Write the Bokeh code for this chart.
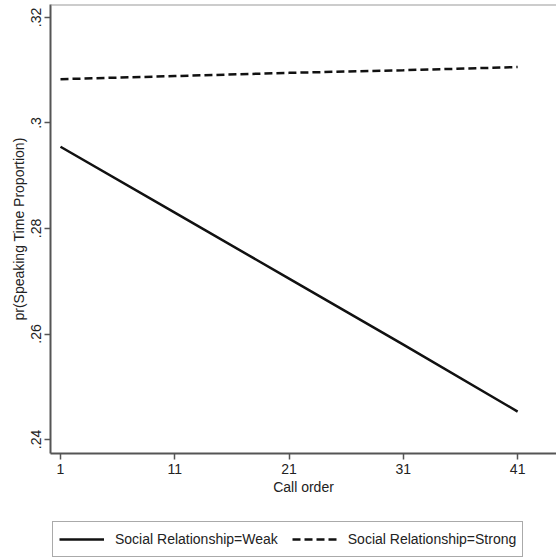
from bokeh.plotting import figure
from bokeh.layouts import column
from bokeh.models import FixedTicker, Legend, LegendItem, Range1d, Span
from bokeh.embed import file_html
from bokeh.resources import INLINE

call_order = [1, 11, 21, 31, 41]
weak = [0.2955, 0.2830, 0.2705, 0.2580, 0.2453]
strong = [0.3083, 0.3089, 0.3095, 0.3100, 0.3106]
x_ticks = [1, 11, 21, 31, 41]
y_ticks = [0.24, 0.26, 0.28, 0.30, 0.32]
y_tick_labels = [".24", ".26", ".28", ".3", ".32"]
series_labels = ["Social Relationship=Weak", "Social Relationship=Strong"]

FONT = "Liberation Sans"
WEAK_STYLE = dict(line_color="#111111", line_width=2.5)
STRONG_STYLE = dict(line_color="#111111", line_width=2.5, line_dash="8 4")
Y_TOP = 0.32246

p = figure(width=556, height=510, output_backend="svg", toolbar_location=None,
           x_range=Range1d(0.125, 44.4), y_range=Range1d(0.23735, Y_TOP),
           min_border_left=50, min_border_right=0, min_border_top=4, min_border_bottom=57)

p.background_fill_color = "white"
p.border_fill_color = "white"
p.outline_line_color = None
p.grid.visible = False
p.add_layout(Span(location=Y_TOP, dimension="width", line_color="#9a9a9a", line_width=2))

p.line(call_order, weak, **WEAK_STYLE)
p.line(call_order, strong, **STRONG_STYLE)

for ax in (p.xaxis[0], p.yaxis[0]):
    ax.axis_line_color = "#555555"
    ax.axis_line_width = 2
    ax.major_tick_line_color = "#555555"
    ax.major_tick_line_width = 1.5
    ax.major_tick_out = 6
    ax.major_tick_in = 0
    ax.minor_tick_line_color = None
    ax.major_label_text_font = FONT
    ax.major_label_text_font_size = "14px"
    ax.major_label_text_color = "#222222"
    ax.axis_label_text_font = FONT
    ax.axis_label_text_font_size = "14px"
    ax.axis_label_text_font_style = "normal"
    ax.axis_label_text_color = "#222222"

p.xaxis.ticker = FixedTicker(ticks=x_ticks)
p.xaxis.axis_label = "Call order"
p.xaxis.axis_label_standoff = 2
p.xaxis.major_label_standoff = 4

p.yaxis.ticker = FixedTicker(ticks=y_ticks)
p.yaxis.major_label_overrides = {t: l for t, l in zip(y_ticks, y_tick_labels)}
p.yaxis.major_label_orientation = "vertical"
p.yaxis.axis_label = "pr(Speaking Time Proportion)"
p.yaxis.axis_label_standoff = 2
p.yaxis.major_label_standoff = 3

# legend strip
lg = figure(width=556, height=48, output_backend="svg", toolbar_location=None,
            x_range=Range1d(0, 1), y_range=Range1d(0, 1),
            min_border_left=0, min_border_right=0, min_border_top=0, min_border_bottom=0)
lg.axis.visible = False
lg.grid.visible = False
lg.outline_line_color = None
lg.background_fill_color = "white"
lg.border_fill_color = "white"
# legend-key renderers kept outside the visible range
r_weak = lg.line([-5, -4], [-5, -4], **WEAK_STYLE)
r_strong = lg.line([-5, -4], [-5, -4], **STRONG_STYLE)

legend = Legend(items=[LegendItem(label=series_labels[0], renderers=[r_weak]),
                       LegendItem(label=series_labels[1], renderers=[r_strong])],
                orientation="horizontal", location=(2, 1))
legend.label_text_font = FONT
legend.label_text_font_size = "14px"
legend.label_text_color = "#222222"
legend.glyph_width = 45
legend.glyph_height = 22
legend.label_standoff = 11
legend.spacing = 14
legend.padding = 6
legend.margin = 0
legend.border_line_color = "#555555"
legend.border_line_width = 1.5
legend.background_fill_alpha = 1
lg.add_layout(legend, "center")

layout = column(p, lg, spacing=0)
open("out.html", "w").write(file_html(layout, INLINE))
